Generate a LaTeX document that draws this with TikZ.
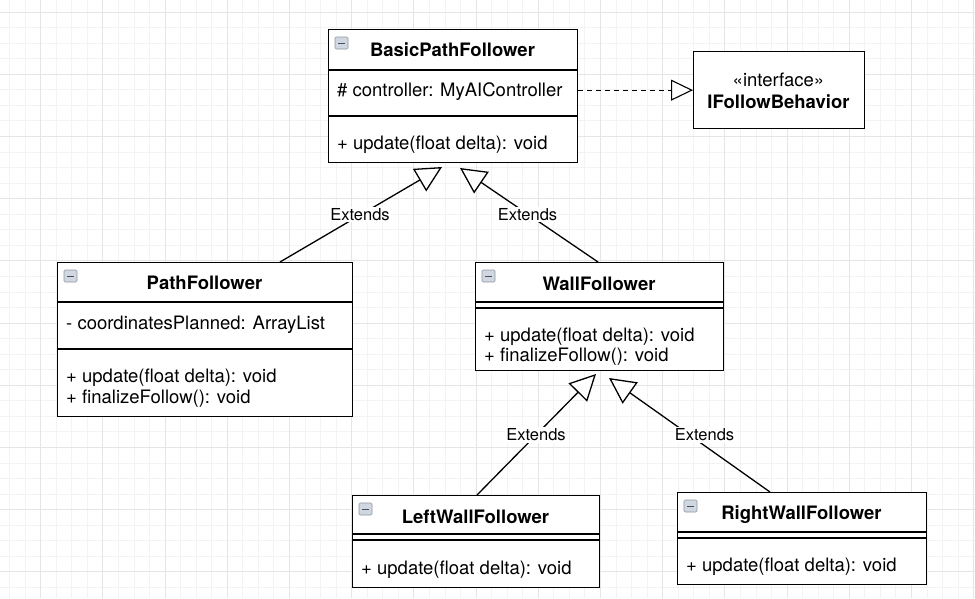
\documentclass[tikz,border=0pt]{standalone}
\usepackage{fontspec}
\setmainfont{TeX Gyre Heros}
\usetikzlibrary{arrows.meta}
\definecolor{gridmin}{RGB}{243,243,243}
\definecolor{gridmaj}{RGB}{229,229,229}
\definecolor{iconfill}{RGB}{208,215,224}
\definecolor{iconedge}{RGB}{140,150,162}
\definecolor{iconminus}{RGB}{70,78,90}
\begin{document}
\begin{tikzpicture}[x=1pt,y=-1pt,
  box/.style={draw=black, line width=1.3pt, fill=white, anchor=north west, inner sep=0pt},
  ttl/.style={font=\fontsize{18.5}{22}\selectfont\bfseries, anchor=base, inner sep=0pt},
  stereo/.style={font=\fontsize{18.5}{22}\selectfont, anchor=base, inner sep=0pt},
  mem/.style={font=\fontsize{18.5}{22}\selectfont, anchor=base west, inner sep=0pt},
  lbl/.style={font=\fontsize{16.5}{20}\selectfont, fill=white, inner sep=1.5pt},
  ext/.style={line width=1.3pt, -{Triangle[open, length=26pt, width=26pt, fill=white]}},
  realize/.style={line width=1.1pt, dash pattern=on 5pt off 4pt, -{Triangle[open, length=22pt, width=21pt, fill=white]}},
  sepline/.style={line width=1.3pt},
  gminor/.style={draw=gridmin, line width=1pt},
  gmajor/.style={draw=gridmaj, line width=1.1pt},
  collapse/.pic={
    \draw[line width=0.6pt, draw=iconedge, fill=iconfill, rounded corners=1.2pt] (0,0) rectangle (13,12);
    \draw[line width=1.4pt, draw=iconminus] (3,6.5) -- (10,6.5);
  }
]
\useasboundingbox[fill=white] (0,0) rectangle (975,598);
% grid
\foreach \i in {0,...,62} { \draw[gminor] ({9.6+15.55*\i},0) -- ({9.6+15.55*\i},598); }
\foreach \i in {0,...,38} { \draw[gminor] (0,{12.1+15.55*\i}) -- (975,{12.1+15.55*\i}); }
\foreach \i in {0,...,15} { \draw[gmajor] ({40.7+62.2*\i},0) -- ({40.7+62.2*\i},598); }
\foreach \i in {0,...,9} { \draw[gmajor] (0,{12.1+62.2*\i}) -- (975,{12.1+62.2*\i}); }

% BasicPathFollower
\node[box, minimum width=249pt, minimum height=133pt] (bpf) at (328,29) {};
\draw[sepline] ([yshift=-41pt]bpf.north west) -- ([yshift=-41pt]bpf.north east);
\draw[sepline] ([yshift=-87pt]bpf.north west) -- ([yshift=-87pt]bpf.north east);
\pic at ([shift={(7,8)}]bpf.north west) {collapse};
\node[ttl] (bpfT) at (452.5,56.5) {BasicPathFollower};
\node[mem] (bpfA) at (337,96.5) {\# controller: MyAIController};
\node[mem] (bpfM) at (337,149.5) {+ update(float delta): void};

% IFollowBehavior
\node[box, minimum width=171pt, minimum height=77pt] (ifb) at (693,51) {};
\node[stereo] (ifbS) at (778.5,86.5) {«interface»};
\node[ttl] (ifbT) at (778.5,108.5) {IFollowBehavior};

% PathFollower
\node[box, minimum width=295pt, minimum height=154pt] (pf) at (57,262) {};
\draw[sepline] ([yshift=-40pt]pf.north west) -- ([yshift=-40pt]pf.north east);
\draw[sepline] ([yshift=-87pt]pf.north west) -- ([yshift=-87pt]pf.north east);
\pic at ([shift={(7,8)}]pf.north west) {collapse};
\node[ttl] (pfT) at (204.5,289.5) {PathFollower};
\node[mem] (pfA) at (66,329.5) {- coordinatesPlanned: ArrayList};
\node[mem] (pfM1) at (66,382.5) {+ update(float delta): void};
\node[mem] (pfM2) at (66,403.5) {+ finalizeFollow(): void};

% WallFollower
\node[box, minimum width=248pt, minimum height=108pt] (wf) at (475,262) {};
\draw[sepline] ([yshift=-40pt]wf.north west) -- ([yshift=-40pt]wf.north east);
\draw[sepline] ([yshift=-46pt]wf.north west) -- ([yshift=-46pt]wf.north east);
\pic at ([shift={(7,8)}]wf.north west) {collapse};
\node[ttl] (wfT) at (599,290.5) {WallFollower};
\node[mem] (wfM1) at (484,341.5) {+ update(float delta): void};
\node[mem] (wfM2) at (484,361.5) {+ finalizeFollow(): void};

% LeftWallFollower
\node[box, minimum width=247pt, minimum height=92pt] (lwf) at (352,495) {};
\draw[sepline] ([yshift=-39pt]lwf.north west) -- ([yshift=-39pt]lwf.north east);
\draw[sepline] ([yshift=-45pt]lwf.north west) -- ([yshift=-45pt]lwf.north east);
\pic at ([shift={(7,8)}]lwf.north west) {collapse};
\node[ttl] (lwfT) at (475.5,523.5) {LeftWallFollower};
\node[mem] (lwfM) at (361,574.5) {+ update(float delta): void};

% RightWallFollower
\node[box, minimum width=249pt, minimum height=92pt] (rwf) at (677,492) {};
\draw[sepline] ([yshift=-40pt]rwf.north west) -- ([yshift=-40pt]rwf.north east);
\draw[sepline] ([yshift=-46pt]rwf.north west) -- ([yshift=-46pt]rwf.north east);
\pic at ([shift={(7,8)}]rwf.north west) {collapse};
\node[ttl] (rwfT) at (801.5,519.5) {RightWallFollower};
\node[mem] (rwfM) at (686,571.5) {+ update(float delta): void};

% connectors
\draw[realize] (bpf.east |- ifb.west) -- (ifb.west);
\coordinate (t1) at (442,167);
\coordinate (t2) at (460,168);
\coordinate (t3) at (596,374);
\coordinate (t4) at (609,378);
\draw[ext] ([xshift=223pt]pf.north west) -- (t1);
\draw[ext] ([xshift=123pt]wf.north west) -- (t2);
\draw[ext] ([xshift=125pt]lwf.north west) -- (t3);
\draw[ext] ([xshift=93pt]rwf.north west) -- (t4);
\node[lbl] (e1) at (360,214.5) {Extends};
\node[lbl] (e2) at (527.5,214.5) {Extends};
\node[lbl] (e3) at (536,435) {Extends};
\node[lbl] (e4) at (704.5,435) {Extends};
\end{tikzpicture}
\end{document}
